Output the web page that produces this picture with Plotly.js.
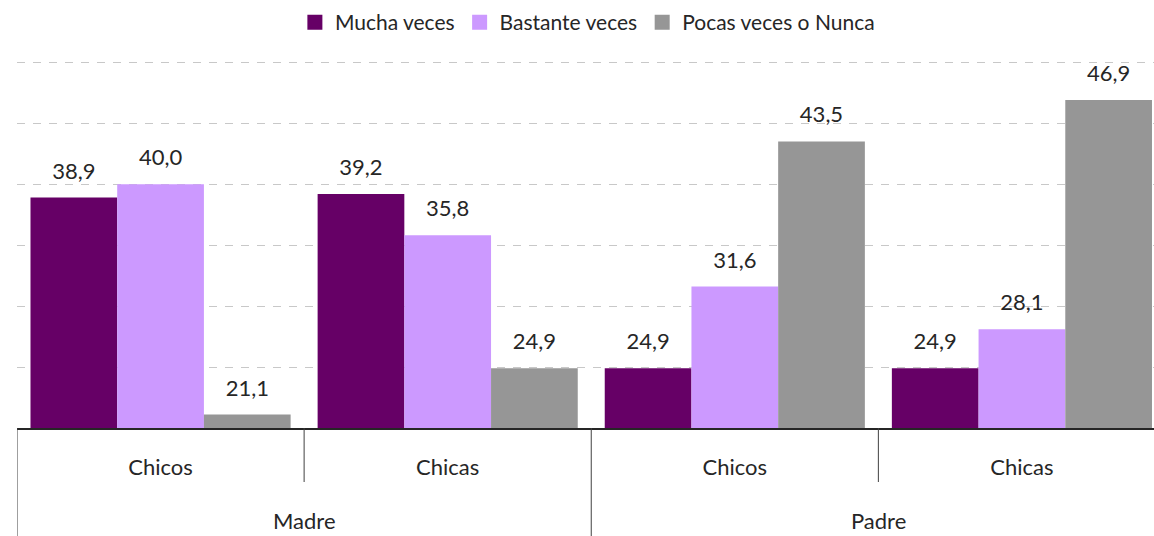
<!DOCTYPE html>
<html>
<head>
<meta charset="utf-8">
<script src="https://cdn.plot.ly/plotly-3.0.1.min.js"></script>
<style>
  html, body { margin: 0; padding: 0; background: #ffffff; overflow: hidden; }
  #chart { width: 1154px; height: 536px; }
</style>
</head>
<body>
<div id="chart"></div>
<script>
// ---- data ----
const parents = ['Madre', 'Madre', 'Padre', 'Padre'];
const children = ['Chicos', 'Chicas', 'Chicos', 'Chicas'];
const seriesNames = ['Mucha veces', 'Bastante veces', 'Pocas veces o Nunca'];
const muchaVeces = [38.9, 39.2, 24.9, 24.9];
const bastanteVeces = [40.0, 35.8, 31.6, 28.1];
const pocasVeces = [21.1, 24.9, 43.5, 46.9];

const colors = ['#660066', '#CC99FF', '#969696'];
const FONT = 'Lato, "Liberation Sans", sans-serif';
const textColor = '#262626';

const values = [muchaVeces, bastanteVeces, pocasVeces];
const idx = children.map((_, i) => i);

// layout geometry (pixels)
const W = 1154, H = 536;
const M = { l: 17, r: 0, t: 61, b: 108 };
const plotH = H - M.t - M.b;
const innerDivLen = 54;          // px below axis
const outerDivLen = M.b;         // px below axis
const parentLabelY = 92;         // px below axis (center)

const traces = [];
values.forEach((vals, i) => {
  traces.push({
    type: 'bar',
    name: seriesNames[i],
    x: idx,
    y: vals,
    offsetgroup: 'g' + i,
    showlegend: false,
    marker: { color: colors[i], line: { width: 0 } },
    hoverinfo: 'skip'
  });
});
values.forEach((vals, i) => {
  traces.push({
    type: 'scatter',
    mode: 'markers+text',
    x: idx,
    y: vals,
    offsetgroup: 'g' + i,
    showlegend: false,
    text: vals.map(v => v.toFixed(1).replace('.', ',')),
    textposition: 'top center',
    textfont: { family: FONT, size: 22, color: textColor },
    marker: { size: 20, opacity: 0 },
    cliponaxis: false,
    hoverinfo: 'skip'
  });
});
// legend entries (square swatches)
seriesNames.forEach((name, i) => {
  traces.push({
    type: 'scatter',
    mode: 'markers',
    name: name,
    x: [null],
    y: [null],
    offsetgroup: 'g' + i,
    showlegend: true,
    marker: { symbol: 'square', size: 15, color: colors[i] },
    hoverinfo: 'skip'
  });
});

// dividers at category boundaries: long where the parent changes (or at the ends)
const shapes = [];
for (let b = 0; b <= children.length; b++) {
  const isOuter = (b === 0 || b === children.length || parents[b] !== parents[b - 1]);
  const len = isOuter ? outerDivLen : innerDivLen;
  shapes.push({
    type: 'line', xref: 'x', yref: 'paper',
    x0: b - 0.5, x1: b - 0.5,
    y0: 0, y1: -len / plotH,
    line: { color: '#404040', width: 1 }
  });
}

// parent labels, centred under their children
const annotations = [];
const uniqueParents = [...new Set(parents)];
uniqueParents.forEach(p => {
  const members = idx.filter(i => parents[i] === p);
  const center = (members[0] + members[members.length - 1]) / 2;
  annotations.push({
    xref: 'x', yref: 'paper',
    x: center, y: -parentLabelY / plotH,
    yanchor: 'middle', xanchor: 'center',
    text: p, showarrow: false,
    font: { family: FONT, size: 22, color: textColor }
  });
});

const layout = {
  width: W,
  height: H,
  margin: M,
  paper_bgcolor: '#ffffff',
  plot_bgcolor: '#ffffff',
  font: { family: FONT, size: 22, color: textColor },
  barmode: 'group',
  bargap: 0.094,
  bargroupgap: 0,
  scattermode: 'group',
  scattergap: 0.094,
  showlegend: true,
  legend: {
    orientation: 'h',
    xref: 'container', yref: 'container',
    x: 0.509, xanchor: 'center',
    y: 0.996, yanchor: 'top',
    font: { family: FONT, size: 21, color: textColor },
    traceorder: 'normal',
    itemwidth: 30,
    itemclick: false
  },
  xaxis: {
    type: 'linear',
    range: [-0.5, 3.46],
    tickmode: 'array',
    tickvals: idx,
    ticktext: children,
    showline: true,
    linecolor: '#262626',
    linewidth: 1.5,
    ticks: '',
    ticklabelstandoff: 19,
    tickfont: { family: FONT, size: 22, color: textColor },
    showgrid: false,
    zeroline: false,
    fixedrange: true
  },
  yaxis: {
    range: [20, 50.1],
    dtick: 5,
    tick0: 0,
    showticklabels: false,
    ticks: '',
    showgrid: true,
    gridcolor: '#c8c8c8',
    gridwidth: 1,
    griddash: '8px,8px',
    zeroline: false,
    showline: false,
    fixedrange: true
  },
  shapes: shapes,
  annotations: annotations
};

Plotly.newPlot('chart', traces, layout, { displayModeBar: false, staticPlot: true });
</script>
</body>
</html>
